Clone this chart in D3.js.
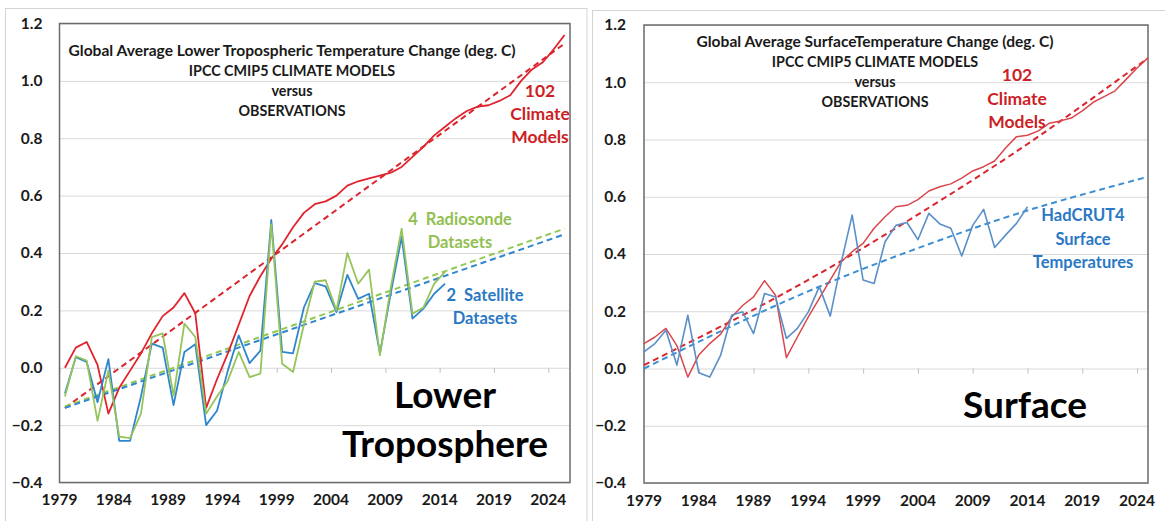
<!DOCTYPE html>
<html>
<head>
<meta charset="utf-8">
<script src="https://cdn.jsdelivr.net/npm/d3@7"></script>
<style>
  html, body { margin: 0; padding: 0; background: #fff; }
  svg { display: block; }
  text { font-family: Lato, "Open Sans", sans-serif; font-weight: 700; }
</style>
</head>
<body>
<svg id="chart" width="1165" height="521"></svg>
<script>
// ---- data ------------------------------------------------------------
const modelYears = d3.range(1979, 2026);      // 1979..2025
const obsYears   = d3.range(1979, 2015);      // 1979..2014
const yTicks     = [-0.4, -0.2, 0.0, 0.2, 0.4, 0.6, 0.8, 1.0, 1.2];
const xTickYears = [1979, 1984, 1989, 1994, 1999, 2004, 2009, 2014, 2019, 2024];

// Lower troposphere (deg. C)
const ltModels = [0.00, 0.07, 0.09, 0.01, -0.16, -0.07, -0.01, 0.05, 0.12, 0.18,
  0.21, 0.26, 0.19, -0.14, -0.04, 0.05, 0.15, 0.25, 0.32, 0.38,
  0.43, 0.49, 0.54, 0.57, 0.58, 0.60, 0.635, 0.65, 0.66, 0.67,
  0.68, 0.70, 0.735, 0.77, 0.81, 0.84, 0.87, 0.895, 0.91, 0.915,
  0.93, 0.95, 1.00, 1.04, 1.065, 1.11, 1.16];
const ltSatellite = [-0.09, 0.037, 0.02, -0.12, 0.03, -0.255, -0.255, -0.10, 0.084, 0.07,
  -0.13, 0.055, 0.082, -0.20, -0.15, -0.01, 0.113, 0.016, 0.06, 0.515,
  0.055, 0.05, 0.21, 0.295, 0.284, 0.194, 0.324, 0.24, 0.258, 0.05,
  0.26, 0.456, 0.171, 0.206, 0.258, 0.293];
const ltRadiosonde = [-0.10, 0.04, 0.025, -0.185, -0.01, -0.24, -0.245, -0.16, 0.107, 0.12,
  -0.097, 0.154, 0.107, -0.16, -0.10, -0.045, 0.055, -0.033, -0.02, 0.50,
  0.014, -0.015, 0.15, 0.30, 0.305, 0.20, 0.40, 0.293, 0.342, 0.043,
  0.28, 0.485, 0.188, 0.21, 0.293, 0.334];
// straight trend lines: value at 1979 and at 2025
const ltTrendYears      = [1979, 2025];
const ltTrendModels     = [-0.14, 1.13];
const ltTrendRadiosonde = [-0.135, 0.485];
const ltTrendSatellite  = [-0.14, 0.465];

// Surface (deg. C)
const sfcModels = [0.087, 0.11, 0.14, 0.08, -0.03, 0.047, 0.087, 0.12, 0.18, 0.22,
  0.25, 0.307, 0.256, 0.038, 0.11, 0.18, 0.245, 0.31, 0.373, 0.408,
  0.437, 0.49, 0.53, 0.565, 0.57, 0.59, 0.62, 0.635, 0.645, 0.665,
  0.69, 0.705, 0.725, 0.77, 0.81, 0.815, 0.83, 0.857, 0.865, 0.875,
  0.90, 0.93, 0.95, 0.97, 1.01, 1.05, 1.085];
const sfcHadcrut = [0.058, 0.087, 0.134, 0.012, 0.186, -0.015, -0.03, 0.047, 0.186, 0.198,
  0.122, 0.262, 0.25, 0.105, 0.14, 0.198, 0.286, 0.183, 0.37, 0.536,
  0.309, 0.297, 0.443, 0.50, 0.51, 0.45, 0.542, 0.505, 0.49, 0.393,
  0.50, 0.556, 0.423, 0.466, 0.507, 0.565];
// curved (2nd-order) trend lines, sampled at these years
const sfcTrendYears   = [1979, 1990, 2000, 2010, 2017, 2025];
const sfcTrendModels  = [0.012, 0.226, 0.444, 0.683, 0.864, 1.084];
const sfcTrendHadcrut = [0.0, 0.202, 0.363, 0.502, 0.586, 0.67];

// ---- drawing ---------------------------------------------------------
const svg = d3.select("#chart");

function drawPanel(p) {
  const g = svg.append("g");

  // outer panel border
  g.append("rect")
    .attr("x", p.outer[0]).attr("y", p.outer[1])
    .attr("width", p.outer[2]).attr("height", p.outer[3])
    .attr("fill", "none").attr("stroke", "#d4d4d4").attr("stroke-width", 1);

  const x = d3.scaleLinear().domain(p.xDomain).range([p.left, p.right]);
  const y = d3.scaleLinear().domain([-0.4, 1.2]).range([p.bottom, p.top]);

  // horizontal gridlines
  g.append("g")
    .attr("transform", `translate(${p.left},0)`)
    .call(d3.axisRight(y).tickValues(yTicks).tickSize(p.right - p.left).tickFormat(""))
    .call(a => a.select(".domain").remove())
    .call(a => a.selectAll("line").attr("stroke", "#d9d9d9").attr("stroke-width", 1));

  // y tick labels
  g.append("g")
    .attr("transform", `translate(${p.left},0)`)
    .call(d3.axisLeft(y).tickValues(yTicks).tickSize(0).tickPadding(p.yPad).tickFormat(d3.format(".1f")))
    .call(a => a.select(".domain").remove())
    .call(a => a.selectAll("text")
      .attr("font-family", "Lato, sans-serif").attr("font-weight", 700)
      .attr("font-size", 15.5).attr("fill", "#1a1a1a"));

  // x tick marks on the zero line
  const tickX = yr => x(yr + p.tickShift);
  g.append("g")
    .attr("transform", `translate(0,${y(0)})`)
    .call(d3.axisBottom(x).tickValues(xTickYears.map(yr => yr + p.tickShift)).tickSize(5).tickFormat(""))
    .call(a => a.select(".domain").remove())
    .call(a => a.selectAll("line").attr("stroke", "#bfbfbf"));

  // x tick labels under the plot area
  g.append("g").selectAll("text")
    .data(xTickYears).join("text")
    .attr("x", d => tickX(d)).attr("y", p.labelY)
    .attr("text-anchor", "middle")
    .attr("font-size", 15.5).attr("fill", "#1a1a1a")
    .text(d => d);

  // plot-area frame
  g.append("rect")
    .attr("x", p.left).attr("y", p.top)
    .attr("width", p.right - p.left).attr("height", p.bottom - p.top)
    .attr("fill", "none").attr("stroke", "#6b6b6b").attr("stroke-width", 1.5);

  const line = d3.line().x(d => x(d[0])).y(d => y(d[1]));
  const trendLine = d3.line().x(d => x(d[0])).y(d => y(d[1])).curve(d3.curveNatural);

  // trend lines (dashed)
  p.trends.forEach(t => {
    g.append("path")
      .datum(p.trendYears.map((yr, i) => [yr, t.values[i]]))
      .attr("d", trendLine)
      .attr("fill", "none").attr("stroke", t.color)
      .attr("stroke-width", 2).attr("stroke-dasharray", "6,4");
  });

  // annual series (solid)
  p.series.forEach(s => {
    g.append("path")
      .datum(s.years.map((yr, i) => [yr, s.values[i]]))
      .attr("d", line)
      .attr("fill", "none").attr("stroke", s.color)
      .attr("stroke-width", s.width || 1.8).attr("stroke-linejoin", "round");
  });

  // headline block
  const th = g.append("g");
  p.title.forEach((t, i) => {
    const el = th.append("text")
      .attr("x", p.titleX).attr("y", p.titleY + i * p.titleStep)
      .attr("text-anchor", "middle").attr("font-size", 14.3).attr("fill", "#1a1a1a")
      .text(t);
    if (i === 0 && p.titleWidth) el.attr("textLength", p.titleWidth).attr("lengthAdjust", "spacingAndGlyphs");
  });

  // series labels
  p.labels.forEach(l => {
    l.lines.forEach((t, i) => {
      g.append("text")
        .attr("x", l.x).attr("y", l.y + i * l.step)
        .attr("text-anchor", "middle").attr("font-size", l.size)
        .attr("fill", l.color).attr("xml:space", "preserve")
        .text(t);
    });
  });

  // big panel name
  p.name.forEach((t, i) => {
    g.append("text")
      .attr("x", p.nameX).attr("y", p.nameY + i * 49)
      .attr("text-anchor", "middle").attr("font-size", 37).attr("fill", "#000")
      .text(t);
  });
}

drawPanel({
  outer: [5.5, 8.5, 581.5, 530],
  left: 59.5, right: 570, top: 23.5, bottom: 482.5,
  xDomain: [1978.5, 2025.5], tickShift: -0.5, yPad: 17, labelY: 505,
  trendYears: ltTrendYears,
  trends: [
    { values: ltTrendModels, color: "#d9262e" },
    { values: ltTrendRadiosonde, color: "#92c84f" },
    { values: ltTrendSatellite, color: "#2f86cf" }
  ],
  series: [
    { years: modelYears, values: ltModels, color: "#e0232c" },
    { years: obsYears, values: ltSatellite, color: "#2f86cf" },
    { years: obsYears, values: ltRadiosonde, color: "#96c45a" }
  ],
  title: ["Global Average Lower Tropospheric Temperature Change (deg. C)",
          "IPCC CMIP5 CLIMATE MODELS", "versus", "OBSERVATIONS"],
  titleX: 292, titleY: 56, titleStep: 20, titleWidth: 447,
  labels: [
    { lines: ["102", "Climate", "Models"], x: 540, y: 97, step: 23, size: 17.5, color: "#cc1f26" },
    { lines: ["4  Radiosonde", "Datasets"], x: 460, y: 225, step: 23, size: 16.5, color: "#92c050" },
    { lines: ["2  Satellite", "Datasets"], x: 485, y: 301, step: 23, size: 16.5, color: "#2a78c4" }
  ],
  name: ["Lower", "Troposphere"], nameX: 445, nameY: 408
});

drawPanel({
  outer: [592.5, 10.5, 580, 530],
  left: 644, right: 1148, top: 25, bottom: 483,
  xDomain: [1979, 2025], tickShift: 0, yPad: 18, labelY: 506,
  trendYears: sfcTrendYears,
  trends: [
    { values: sfcTrendModels, color: "#d9262e" },
    { values: sfcTrendHadcrut, color: "#3b8fd4" }
  ],
  series: [
    { years: modelYears, values: sfcModels, color: "#d9474c", width: 1.5 },
    { years: obsYears, values: sfcHadcrut, color: "#5a8fc8", width: 1.6 }
  ],
  title: ["Global Average SurfaceTemperature Change (deg. C)",
          "IPCC CMIP5 CLIMATE MODELS", "versus", "OBSERVATIONS"],
  titleX: 875, titleY: 47, titleStep: 20, titleWidth: 357,
  labels: [
    { lines: ["102", "Climate", "Models"], x: 1017, y: 81, step: 23.5, size: 17.5, color: "#cc1f26" },
    { lines: ["HadCRUT4", "Surface", "Temperatures"], x: 1083, y: 221, step: 23.5, size: 16.5, color: "#2a78c4" }
  ],
  name: ["Surface"], nameX: 1025, nameY: 418
});
</script>
</body>
</html>
